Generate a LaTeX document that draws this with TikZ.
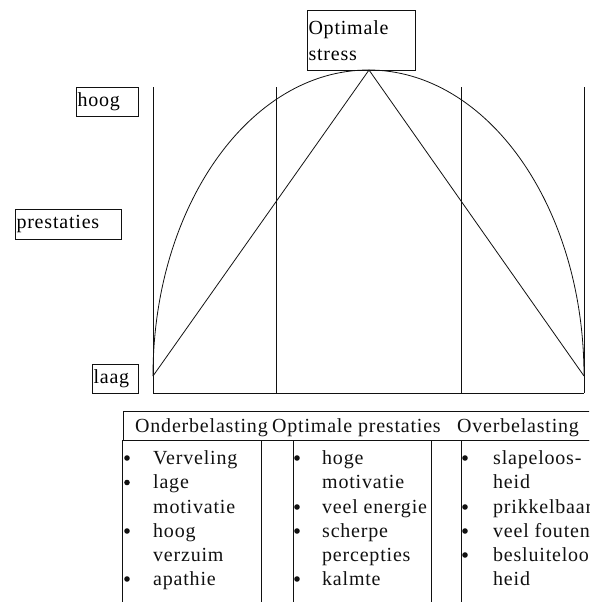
\documentclass[tikz,border=0pt]{standalone}
\usepackage{fontspec}
\setmainfont{Liberation Serif}[LetterSpace=4.0]
\usepackage{tikz}
\usetikzlibrary{positioning, calc}
\definecolor{inktzwart}{HTML}{111111}
\definecolor{papierwit}{HTML}{FFFFFF}

\begin{document}
\begin{tikzpicture}[x=1pt, y=-1pt,
  kader/.style={draw=inktzwart, line width=1pt, inner xsep=1pt, inner ysep=0pt, anchor=north west, align=left, font=\fontsize{20}{26}\selectfont},
  lijn/.style={draw=inktzwart, line width=1pt},
  boog/.style={draw=inktzwart, line width=0.8pt},
  regel/.style={inktzwart, anchor=base west, inner sep=0pt, font=\fontsize{20}{24}\selectfont},
  stip/.style={fill=inktzwart}]

  % Canvas
  \useasboundingbox (0,0) rectangle (589,602);
  \clip (0,0) rectangle (589,602);
  \fill[papierwit] (0,0) rectangle (589,602);

  % Axis labels on the left
  \node[kader, minimum width=62pt, minimum height=29pt, text width=60pt] (hoog) at (76,87) {hoog};
  \node[kader, minimum width=106pt, minimum height=30pt, text width=104pt] (prestaties) at (15,209) {prestaties};
  \node[kader, minimum width=46pt, minimum height=29pt, text width=44pt] (laag) at (92,364) {laag};

  % Label above the apex
  \node[kader, minimum width=108pt, minimum height=60pt, text width=106pt] (optstress) at (307,10) {Optimale\\stress};

  % Frame: vertical zone lines and base line
  \coordinate (v1t) at (153,87);  \coordinate (v1b) at (153,393);
  \coordinate (v2t) at (276,87);  \coordinate (v2b) at (276,393);
  \coordinate (v3t) at (461,87);  \coordinate (v3b) at (461,393);
  \coordinate (v4t) at (584,87);  \coordinate (v4b) at (584,393);
  \draw[lijn] (v1t) -- (v1b);
  \draw[lijn] (v2t) -- (v2b);
  \draw[lijn] (v3t) -- (v3b);
  \draw[lijn] (v4t) -- (v4b);
  \draw[lijn] (v1b) -- (v4b);

  % Performance curve and triangle
  \coordinate (top) at (369,70);
  \coordinate (boogl) at (153,376);
  \coordinate (boogr) at (584,376);
  \draw[boog] (boogl) -- (top) -- (boogr);
  \draw[boog] (boogl) arc[start angle=180, end angle=0, x radius=215.5pt, y radius=306pt];

  % Table header
  \draw[lijn] (123,411) rectangle (600,440);
  \node[regel] (konder) at (135,432) {Onderbelasting};
  \node[regel] (kopt) at (272,432) {Optimale prestaties};
  \node[regel] (kover) at (457,432) {Overbelasting};

  % Column boxes
  \draw[lijn] (122,440) rectangle (261,610);
  \draw[lijn] (293,440) rectangle (431,610);
  \draw[lijn] (461,440) rectangle (600,610);

  % Column 1: Onderbelasting
  \fill[stip] (127,458) circle (2.8);
  \node[regel] (o1) at (153,464) {Verveling};
  \fill[stip] (127,482.5) circle (2.8);
  \node[regel] (o2) at (153,488.5) {lage};
  \node[regel] (o3) at (153,513) {motivatie};
  \fill[stip] (127,531) circle (2.8);
  \node[regel] (o4) at (153,537) {hoog};
  \node[regel] (o5) at (153,561) {verzuim};
  \fill[stip] (127,579) circle (2.8);
  \node[regel] (o6) at (153,585) {apathie};

  % Column 2: Optimale prestaties
  \fill[stip] (297,458) circle (2.8);
  \node[regel] (p1) at (322,464) {hoge};
  \node[regel] (p2) at (322,488.5) {motivatie};
  \fill[stip] (297,507) circle (2.8);
  \node[regel] (p3) at (322,513) {veel energie};
  \fill[stip] (297,531) circle (2.8);
  \node[regel] (p4) at (322,537) {scherpe};
  \node[regel] (p5) at (322,561) {percepties};
  \fill[stip] (297,579) circle (2.8);
  \node[regel] (p6) at (322,585) {kalmte};

  % Column 3: Overbelasting
  \fill[stip] (465,458) circle (2.8);
  \node[regel] (b1) at (493,464) {slapeloos-};
  \node[regel] (b2) at (493,488.5) {heid};
  \fill[stip] (465,507) circle (2.8);
  \node[regel] (b3) at (493,513) {prikkelbaar};
  \fill[stip] (465,531) circle (2.8);
  \node[regel] (b4) at (493,537) {veel fouten};
  \fill[stip] (465,555) circle (2.8);
  \node[regel] (b5) at (493,561) {besluiteloos};
  \node[regel] (b6) at (493,585) {heid};
\end{tikzpicture}
\end{document}
